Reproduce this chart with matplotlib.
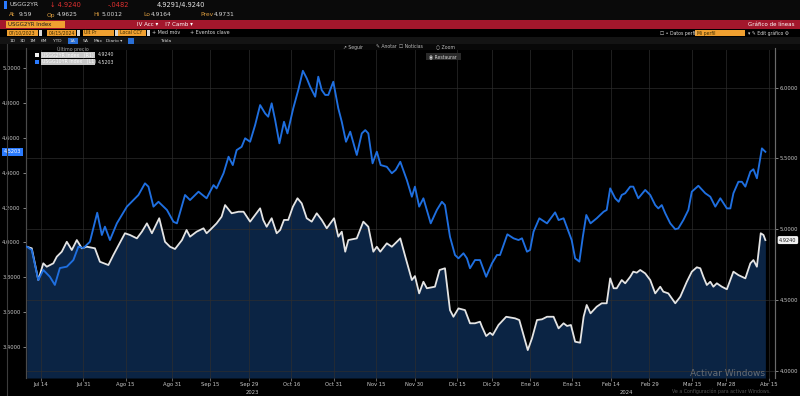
import numpy as np
import matplotlib
matplotlib.use('Agg')
import matplotlib.pyplot as plt
from matplotlib.patches import Rectangle

plt.rcParams['font.family'] = ['DejaVu Sans']

# ---------------- data ----------------
START = '2023-07-10'
HOLIDAYS = ['2023-09-04', '2023-11-23', '2023-12-25', '2024-01-01',
            '2024-01-15', '2024-02-19', '2024-03-29']

# USGG10YR (left axis, blue) – trading sessions since START and yield
sess_10y = [0.3, 1.6, 3.3, 4.6, 6.3, 7.6, 8.9, 10.7, 12.4, 13.7,
            15.0, 16.7, 18.6, 19.8, 20.6, 21.9, 23.7, 26.3, 29.3, 31.0,
            31.9, 33.2, 34.5, 36.7, 38.4, 39.3, 41.4, 42.7, 44.9, 47.0,
            48.8, 49.6, 51.4, 52.7, 53.8, 54.8, 56.1, 57.0, 58.3, 59.6,
            60.9, 62.2, 63.0, 63.9, 64.8, 65.9, 67.1, 68.0, 69.5, 70.8,
            72.0, 73.0, 73.9, 75.2, 76.0, 76.9, 77.8, 78.6, 79.9, 81.2,
            82.1, 83.2, 84.3, 86.0, 87.3, 88.2, 89.0, 90.1, 91.2, 92.2,
            93.8, 95.1, 96.1, 97.3, 99.0, 100.3, 101.1, 102.2, 103.3, 105.2,
            106.8, 108.1, 108.9, 110.2, 111.5, 112.4, 113.7, 114.6, 115.4, 116.7,
            118.0, 119.6, 121.1, 122.4, 123.2, 125.1, 126.7, 128.0, 128.9, 130.2,
            131.0, 131.9, 133.4, 135.4, 137.5, 138.4, 139.7, 141.0, 141.8, 142.7,
            143.8, 144.7, 145.6, 146.7, 148.3, 150.1, 150.9, 151.8, 153.1, 154.0,
            154.8, 155.7, 157.0, 157.8, 159.1, 160.9, 162.2, 163.5, 164.3, 165.2,
            166.1, 167.4, 168.7, 169.5, 170.8, 172.1, 173.0, 174.7, 176.5, 177.8,
            179.1, 180.4, 182.1, 183.0, 183.8, 185.1, 186.0, 186.9, 188.2, 189.0,
            189.9, 191.2, 192.1]
yld_10y = [3.975, 3.956, 3.783, 3.841, 3.802, 3.755, 3.852, 3.860, 3.898, 3.975,
           3.967, 4.003, 4.170, 4.042, 4.090, 4.013, 4.109, 4.205, 4.272, 4.339,
           4.320, 4.205, 4.233, 4.186, 4.118, 4.109, 4.272, 4.243, 4.291, 4.253,
           4.329, 4.310, 4.397, 4.492, 4.444, 4.530, 4.549, 4.598, 4.578, 4.674,
           4.789, 4.741, 4.722, 4.799, 4.703, 4.569, 4.693, 4.626, 4.770, 4.875,
           4.986, 4.943, 4.894, 4.837, 4.952, 4.875, 4.847, 4.847, 4.923, 4.770,
           4.693, 4.578, 4.636, 4.502, 4.626, 4.645, 4.626, 4.454, 4.521, 4.444,
           4.434, 4.397, 4.416, 4.463, 4.358, 4.262, 4.320, 4.205, 4.253, 4.109,
           4.186, 4.233, 4.214, 4.032, 3.927, 3.908, 3.937, 3.908, 3.851, 3.898,
           3.898, 3.802, 3.879, 3.927, 3.927, 4.046, 4.023, 4.013, 4.023, 3.946,
           3.956, 4.061, 4.138, 4.109, 4.172, 4.128, 4.138, 4.061, 4.013, 3.908,
           3.889, 4.032, 4.157, 4.109, 4.138, 4.176, 4.186, 4.310, 4.253, 4.233,
           4.272, 4.282, 4.320, 4.320, 4.253, 4.301, 4.272, 4.214, 4.195, 4.214,
           4.167, 4.109, 4.075, 4.080, 4.128, 4.186, 4.291, 4.325, 4.282, 4.262,
           4.205, 4.253, 4.195, 4.195, 4.282, 4.348, 4.348, 4.320, 4.406, 4.420,
           4.368, 4.540, 4.5203]

# USGG2YR (right axis, white line + filled area)
sess_2y = [0.3, 1.6, 3.3, 4.6, 5.5, 7.2, 8.1, 9.4, 10.7, 12.0,
           13.3, 14.6, 15.9, 18.0, 19.3, 21.5, 22.8, 25.8, 27.1, 28.9,
           30.2, 31.5, 32.8, 34.7, 36.2, 37.5, 38.8, 40.6, 41.8, 42.7,
           44.4, 46.2, 47.0, 47.9, 49.6, 50.9, 51.8, 53.5, 55.3, 56.6,
           58.3, 59.6, 60.9, 61.7, 62.6, 63.9, 65.2, 66.1, 67.1, 68.2,
           69.4, 70.6, 71.7, 73.0, 74.3, 75.6, 76.9, 78.2, 80.1, 81.2,
           82.1, 83.0, 83.8, 86.0, 87.7, 89.0, 90.3, 91.2, 92.1, 93.8,
           95.1, 97.3, 98.6, 100.3, 101.1, 102.2, 103.3, 104.2, 106.3, 107.5,
           108.9, 110.2, 111.1, 112.4, 114.1, 115.4, 116.7, 118.0, 118.5, 119.6,
           120.6, 121.3, 122.8, 124.8, 127.1, 128.2, 130.4, 131.5, 132.8, 134.1,
           135.4, 137.1, 138.4, 139.7, 140.6, 141.6, 142.7, 144.0, 144.9, 145.7,
           146.7, 148.3, 149.6, 150.9, 151.8, 152.7, 153.5, 154.8, 155.7, 157.0,
           157.8, 158.7, 159.6, 160.9, 162.2, 163.5, 164.8, 165.6, 166.9, 167.8,
           168.7, 170.0, 171.7, 173.0, 174.3, 175.2, 176.0, 176.9, 177.8, 178.6,
           179.5, 180.8, 182.1, 183.8, 185.1, 186.9, 188.2, 189.0, 189.9, 190.9,
           191.6, 192.1]
yld_2y = [4.877, 4.866, 4.642, 4.760, 4.736, 4.760, 4.807, 4.842, 4.912, 4.854,
          4.924, 4.866, 4.877, 4.866, 4.771, 4.748, 4.819, 4.972, 4.960, 4.936,
          4.983, 5.042, 4.972, 5.078, 4.912, 4.877, 4.861, 4.924, 4.995, 4.948,
          4.983, 5.007, 4.972, 4.995, 5.042, 5.089, 5.171, 5.113, 5.124, 5.124,
          5.054, 5.101, 5.148, 5.066, 5.018, 5.078, 4.972, 4.995, 5.066, 5.066,
          5.159, 5.219, 5.183, 5.078, 5.054, 5.113, 5.066, 5.007, 5.078, 4.948,
          4.983, 4.842, 4.924, 4.936, 5.054, 5.018, 4.842, 4.877, 4.842, 4.901,
          4.877, 4.936, 4.807, 4.642, 4.670, 4.548, 4.630, 4.584, 4.595, 4.713,
          4.725, 4.430, 4.383, 4.442, 4.430, 4.337, 4.337, 4.348, 4.313, 4.247,
          4.270, 4.254, 4.325, 4.383, 4.372, 4.360, 4.148, 4.231, 4.360, 4.365,
          4.383, 4.383, 4.301, 4.337, 4.318, 4.325, 4.207, 4.200, 4.383, 4.466,
          4.407, 4.454, 4.478, 4.478, 4.654, 4.584, 4.584, 4.642, 4.619, 4.665,
          4.701, 4.694, 4.713, 4.689, 4.642, 4.548, 4.595, 4.560, 4.548, 4.513,
          4.478, 4.524, 4.630, 4.701, 4.732, 4.725, 4.665, 4.607, 4.630, 4.595,
          4.619, 4.595, 4.577, 4.701, 4.677, 4.654, 4.760, 4.783, 4.736, 4.972,
          4.960, 4.9240]

tick_dates = ['2023-07-14', '2023-07-31', '2023-08-15', '2023-08-31', '2023-09-15',
              '2023-09-29', '2023-10-16', '2023-10-31', '2023-11-15', '2023-11-30',
              '2023-12-15', '2023-12-29', '2024-01-16', '2024-01-31', '2024-02-14',
              '2024-02-29', '2024-03-15', '2024-03-28', '2024-04-15']
tick_labels = ['Jul 14', 'Jul 31', 'Ago 15', 'Ago 31', 'Sep 15', 'Sep 29', 'Oct 16',
               'Oct 31', 'Nov 15', 'Nov 30', 'Dic 15', 'Dic 29', 'Ene 16', 'Ene 31',
               'Feb 14', 'Feb 29', 'Mar 15', 'Mar 28', 'Abr 15']
year_dates = ['2023-10-02', '2024-02-21']
year_labels = ['2023', '2024']
left_ticks = [3.4, 3.6, 3.8, 4.0, 4.2, 4.4, 4.6, 4.8, 5.0]
right_ticks = [4.0, 4.5, 5.0, 5.5, 6.0]


def sess(d):
    return np.busday_count(START, d, holidays=HOLIDAYS)


W, H = 800, 396
fig = plt.figure(figsize=(W / 100, H / 100), dpi=100, facecolor='black')


def fx(x):
    return x / W


def fy(y):
    return 1 - y / H


def frect(x0, y0, x1, y1, color, z=1, **kw):
    fig.add_artist(Rectangle((fx(x0), fy(y1)), (x1 - x0) / W, (y1 - y0) / H,
                             transform=fig.transFigure, facecolor=color,
                             edgecolor='none', zorder=z, **kw))


def ftext(x, y, s, color='#d8d8d8', size=4.3, ha='left', **kw):
    fig.text(fx(x), fy(y), s, color=color, fontsize=size, ha=ha, va='center', **kw)


# ---------------- header ----------------
frect(0, 0, 800, 20, '#0a0a0a')
frect(4, 1, 7, 9, '#2a7bff', z=2)
ftext(9, 5, 'USGG2YR', size=4.3)
ftext(50, 5, '\u2193 4.9240', color='#e03030', size=4.8)
ftext(108, 5, '-.0482', color='#e03030', size=4.8)
ftext(157, 5, '4.9291/4.9240', color='#e8e8e8', size=4.8)
ftext(9, 15, 'At', color='#e0a040')
ftext(19, 15, '9:59')
ftext(47, 15, 'Op', color='#e0a040')
ftext(57, 15, '4.9625')
ftext(93, 15, 'Hi', color='#e0a040')
ftext(101, 15, '5.0012')
ftext(143, 15, 'Lo', color='#e0a040')
ftext(151, 15, '4.9164')
ftext(200, 15, 'Prev', color='#e0a040')
ftext(214, 15, '4.9731')

frect(0, 20, 800, 29, '#a3172c')
frect(6, 21, 65, 28, '#f0a030', z=2)
ftext(8, 24.5, 'USGG2YR Index', color='#1a1a1a', size=4)
ftext(137, 24.5, 'IV Acc \u25be    I7 Camb \u25be', color='white', size=4)
ftext(795, 24.5, 'Gráfico de líneas', color='white', size=4, ha='right')

for x0, x1, lab in [(7, 38, '07/10/2023'), (47, 76, '04/15/2024'),
                    (83, 114, 'Últ Pr'), (118, 146, 'Local CCY')]:
    frect(x0, 30, x1, 36, '#f0a030', z=2)
    ftext(x0 + 1.5, 33, lab, color='#3a2a00', size=3.3)
    frect(x1 + 1, 30.5, x1 + 4, 35.5, '#d8d8d8', z=2)
ftext(152, 33, '+ Med móv', size=3.5)
ftext(190, 33, '+ Eventos clave', size=3.5)
ftext(660, 33, '\u2610 \u2022 Datos perfil', size=3.3)
frect(695, 30, 745, 36, '#f0a030', z=2)
ftext(697, 33, 'Mi perfil', color='#3a2a00', size=3.3)
ftext(748, 33, '\u25be \u270e Edit gráfico \u2699', size=3.3)

frect(0, 37, 800, 44, '#141414')
btns = ['1D', '3D', '1M', '6M', 'YTD', '1A', '5A', 'Máx', 'Diario \u25be']
bx = [10, 20, 30, 41, 53, 70, 83, 94, 106]
for b, x in zip(btns, bx):
    if b == '1A':
        frect(x - 2, 37.5, x + 8, 43.5, '#2a6fd6', z=2)
    ftext(x, 40.5, b, size=3.2, zorder=3)
frect(128, 37.5, 134, 43.5, '#2a6fd6', z=2)
ftext(160, 40.5, 'Tabla', size=3.2)

frect(0, 44, 800, 50, '#080808')
ftext(343, 47, '\u2197 Seguir', size=3.3, color='#bdbdbd')
ftext(376, 47, '\u270e Anotar', size=3.3, color='#bdbdbd')
ftext(399, 47, '\u2610 Noticias', size=3.3, color='#bdbdbd')
ftext(436, 47, '\u25cb Zoom', size=3.3, color='#bdbdbd')

# vertical rule at the far left
fig.add_artist(plt.Line2D([fx(7), fx(7)], [fy(44), fy(396)], transform=fig.transFigure,
                          color='#3c3c3c', lw=0.8))

# ---------------- chart ----------------
x_left, x_right, y_top, y_bot = 25.6, 775, 48, 378
ax = fig.add_axes([fx(x_left), fy(y_bot), (x_right - x_left) / W, (y_bot - y_top) / H])
ax2 = ax.twinx()
ax.set_zorder(ax2.get_zorder() + 1)
ax.patch.set_visible(False)
ax2.set_facecolor('black')

ax.set_xlim(0, 194.6)
ax.set_ylim(3.220, 5.117)
ax2.set_ylim(3.951, 6.279)

# right axis series: filled area + white line
ax2.fill_between(sess_2y, yld_2y, 3.951, color='#0b2444', lw=0, zorder=1)
ax2.plot(sess_2y, yld_2y, color='#e4e4e4', lw=1.3, zorder=3, solid_joinstyle='round')
# left axis series: blue line
ax.plot(sess_10y, yld_10y, color='#1f6fe0', lw=1.35, zorder=3, solid_joinstyle='round')

# x ticks
tpos = [sess(d) for d in tick_dates]
ax.set_xticks(tpos)
ax.set_xticklabels(tick_labels)
ax.tick_params(axis='x', colors='#8a8a8a', labelcolor='#c8c8c8', labelsize=3.8,
               length=2, width=0.5, pad=1.2)
for d, lab in zip(year_dates, year_labels):
    ax.text(sess(d), -0.035, lab, transform=ax.get_xaxis_transform(),
            color='#c8c8c8', fontsize=3.8, ha='center', va='top')

# grid on the right-axis layer
ax2.set_yticks(right_ticks)
ax2.set_yticklabels(['{:.4f}'.format(v) for v in right_ticks])
ax2.tick_params(axis='y', colors='#9a9a9a', labelcolor='#c8c8c8', labelsize=3.8,
                length=2, width=0.6, pad=1.5)
ax2.grid(True, axis='y', color='#2e2e2e', lw=0.6, alpha=0.8)
for t in tpos:
    ax2.axvline(t, color='#2e2e2e', lw=0.6, alpha=0.8, zorder=1.5)

ax.set_yticks(left_ticks)
ax.set_yticklabels(['{:.4f}'.format(v) for v in left_ticks])
ax.tick_params(axis='y', colors='#9a9a9a', labelcolor='#c8c8c8', labelsize=3.8,
               length=2, width=0.6, pad=1.5)

for a in (ax, ax2):
    for side in ('top', 'bottom'):
        a.spines[side].set_visible(False)
    a.spines['left'].set_color('#4a4a4a')
    a.spines['right'].set_color('#6a6a6a')
    a.spines['left'].set_linewidth(0.8)
    a.spines['right'].set_linewidth(0.8)

# last value tags
ax.annotate('{:.4f}'.format(yld_10y[-1]), xy=(0, yld_10y[-1]),
            xycoords=('axes fraction', 'data'), xytext=(-3, 0),
            textcoords='offset points', ha='right', va='center', fontsize=3.6,
            color='white', bbox=dict(boxstyle='square,pad=0.35', fc='#2a7bff', ec='none'))
ax2.annotate('{:.4f}'.format(yld_2y[-1]), xy=(1, yld_2y[-1]),
             xycoords=('axes fraction', 'data'), xytext=(3, 0),
             textcoords='offset points', ha='left', va='center', fontsize=3.6,
             color='#1a1a1a', bbox=dict(boxstyle='round,pad=0.3', fc='#f0f0f0', ec='none'))

# legend
ftext(57, 49, 'Último precio', color='#a0a0a0', size=3.4)
frect(35, 53, 39, 57, '#f0f0f0', z=5)
frect(35, 60, 39, 64, '#2a7bff', z=5)
frect(41, 52.5, 95, 57.5, '#c8c8c8', z=5)
frect(41, 59.5, 95, 64.5, '#c8c8c8', z=5)
ftext(42, 55, 'USGG2YR Index   (R1)', color='#f8f8f8', size=3.4, zorder=6)
ftext(42, 62, 'USGG10YR Index   (L1)', color='#f8f8f8', size=3.4, zorder=6)
ftext(98, 55, '{:.4f}'.format(yld_2y[-1]), color='#e0e0e0', size=3.4, zorder=6)
ftext(98, 62, '{:.4f}'.format(yld_10y[-1]), color='#e0e0e0', size=3.4, zorder=6)

# restore button
frect(426, 53, 461, 60, '#2a2a2a', z=5)
ftext(429, 56.5, '\u25c9 Restaurar', color='#d0d0d0', size=3.3, zorder=6)

# windows watermark
ftext(690, 374, 'Activar Windows', color='#8a8a8a', size=6.5, alpha=0.7, zorder=6)
ftext(672, 391, 'Ve a Configuración para activar Windows.', color='#7a7a7a', size=3.4,
      alpha=0.7, zorder=6)

fig.savefig('out.png', dpi=100, facecolor='black')
